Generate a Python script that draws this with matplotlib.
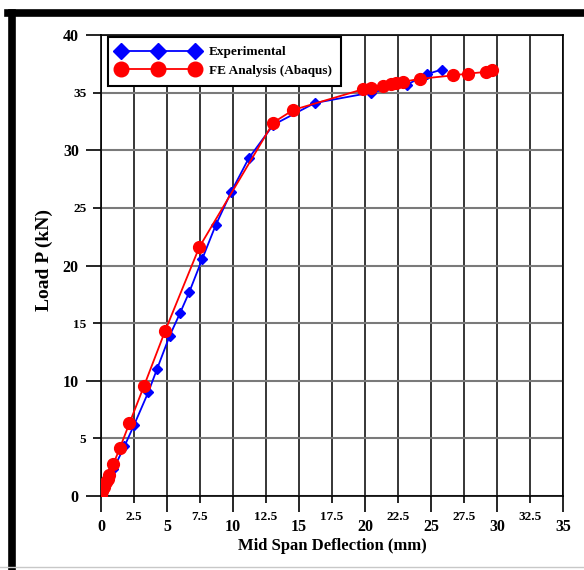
import matplotlib
matplotlib.use("Agg")
from matplotlib import pyplot as plt
from matplotlib.lines import Line2D
from matplotlib.ticker import MultipleLocator, FormatStrFormatter

# experimental load-deflection curve
exp_defl = [0.0, 0.3, 0.6, 0.93, 1.77, 2.52, 3.58, 4.24, 5.2, 5.98, 6.69, 7.68,
            8.69, 9.87, 11.19, 13.05, 16.2, 20.45, 23.2, 24.7, 25.8]
exp_load = [0.0, 0.8, 1.6, 2.3, 4.3, 6.2, 9.0, 11.0, 13.9, 15.85, 17.7, 20.6,
            23.5, 26.4, 29.3, 32.2, 34.1, 35.0, 35.7, 36.6, 37.0]

# FE (Abaqus) curve
fe_defl = [0.0, 0.1, 0.2, 0.35, 0.5, 0.63, 0.93, 1.44, 2.15, 3.26, 4.85, 7.45,
           13.05, 14.57, 19.87, 20.45, 21.4, 21.95, 22.35, 22.9, 24.2, 26.7,
           27.8, 29.2, 29.65]
fe_load = [0.0, 0.4, 0.8, 1.2, 1.5, 1.8, 2.75, 4.2, 6.3, 9.55, 14.3, 21.6,
           32.4, 33.5, 35.3, 35.4, 35.6, 35.75, 35.8, 35.95, 36.2, 36.5,
           36.65, 36.8, 37.0]

plt.rcParams['font.family'] = ['Liberation Serif', 'DejaVu Serif']
plt.rcParams['font.weight'] = 'bold'

fig = plt.figure(figsize=(5.84, 5.70), dpi=100)
ax = fig.add_axes([101 / 584, 1 - 496 / 570, 462 / 584, 461 / 570])

ax.plot(exp_defl, exp_load, color='blue', lw=1.3, marker='D', ms=5.5,
        mec='blue', mfc='blue', zorder=4)
ax.plot(fe_defl, fe_load, color='red', lw=1.3, marker='o', ms=8.5,
        mec='red', mfc='red', zorder=5)

ax.set_xlim(0, 35)
ax.set_ylim(0, 40)

ax.xaxis.set_major_locator(MultipleLocator(5))
ax.xaxis.set_minor_locator(MultipleLocator(2.5))
ax.yaxis.set_major_locator(MultipleLocator(10))
ax.yaxis.set_minor_locator(MultipleLocator(5))
ax.xaxis.set_major_formatter(FormatStrFormatter('%g'))
ax.xaxis.set_minor_formatter(FormatStrFormatter('%g'))
ax.yaxis.set_major_formatter(FormatStrFormatter('%g'))
ax.yaxis.set_minor_formatter(FormatStrFormatter('%g'))

ax.tick_params(axis='x', which='major', direction='out', length=11.5, width=1.2,
               pad=5, labelsize=11.5)
ax.tick_params(axis='x', which='minor', direction='out', length=5, width=1.2,
               pad=6, labelsize=9.5)
ax.tick_params(axis='y', which='major', direction='out', length=11, width=1.2,
               pad=5, labelsize=11.5)
ax.tick_params(axis='y', which='minor', direction='out', length=5.5, width=1.2,
               pad=5, labelsize=9.5)

ax.grid(which='both', axis='x', color='black', lw=1.1, zorder=1)
ax.grid(which='both', axis='y', color='#7a7a7a', lw=1.5, zorder=1)
ax.set_axisbelow(True)
for s in ax.spines.values():
    s.set_linewidth(1.2)
    s.set_color('black')

ax.set_xlabel('Mid Span Deflection (mm)', fontsize=12, fontweight='bold',
              labelpad=2)
ax.set_ylabel('Load P (kN)', fontsize=14, fontweight='bold')
ax.yaxis.set_label_coords(-0.104, 0.512)

handles = [
    Line2D([], [], color='blue', lw=1.3, marker='D', ms=8.5, mfc='blue', mec='blue'),
    Line2D([], [], color='red', lw=1.3, marker='o', ms=10.5, mfc='red', mec='red'),
]
leg = ax.legend(handles, ['Experimental', 'FE Analysis (Abaqus)'],
                loc='upper left', bbox_to_anchor=(7 / 462, 1 - 2 / 461),
                borderaxespad=0, borderpad=0.7, numpoints=3, handlelength=6.2,
                handletextpad=0.75, labelspacing=0.45, fancybox=False,
                framealpha=1, edgecolor='black',
                prop={'weight': 'bold', 'size': 9.5})
leg.get_frame().set_linewidth(1.5)
leg.set_zorder(10)

# page frame around the figure
fig.add_artist(Line2D([12 / 584, 12 / 584], [0, 1 - 13 / 570], color='black',
                      lw=5.5, transform=fig.transFigure))
fig.add_artist(Line2D([8 / 584, 1], [1 - 13 / 570, 1 - 13 / 570], color='black',
                      lw=5.5, transform=fig.transFigure))
fig.add_artist(Line2D([0, 1], [3 / 570, 3 / 570], color='#c8c8c8',
                      lw=1.0, transform=fig.transFigure))

fig.savefig('out.png', dpi=100)
